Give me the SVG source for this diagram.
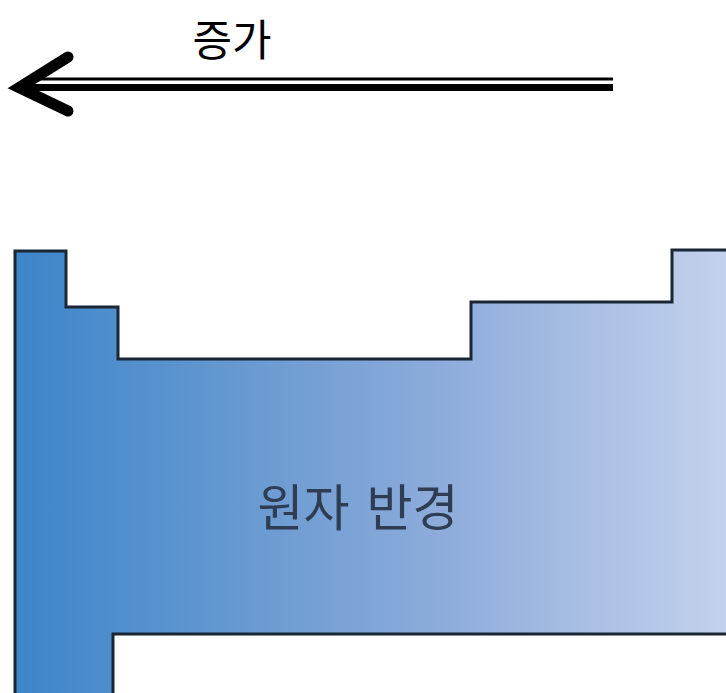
<svg xmlns="http://www.w3.org/2000/svg" width="726" height="693" viewBox="0 0 726 693">
<defs>
<linearGradient id="g" x1="0" y1="0" x2="1" y2="0">
<stop offset="0" stop-color="#3c85c9"/>
<stop offset="0.3" stop-color="#6598d0"/>
<stop offset="0.6" stop-color="#8eacdb"/>
<stop offset="1" stop-color="#c4d2ec"/>
</linearGradient>
<style>
.t{font-family:"Noto Sans CJK KR","Noto Sans",sans-serif;}
</style>
</defs>
<g id="arrow">
<line x1="40" y1="79" x2="613" y2="79" stroke="#000" stroke-width="3"/>
<line x1="30" y1="87.5" x2="613" y2="87.5" stroke="#000" stroke-width="7"/>
<polyline points="68,57 19,87.5 68,111" fill="none" stroke="#000" stroke-width="11" stroke-linecap="round" stroke-linejoin="miter"/>
<text class="t" x="232" y="56" font-size="43" text-anchor="middle" fill="#000">증가</text>
</g>
<g id="table">
<path d="M15,251 H66 V307 H118 V359 H471 V302 H672 V250 H730 V634 H113 V696 H15 Z" fill="url(#g)" stroke="#1b2634" stroke-width="3"/>
<text class="t" x="358" y="526" font-size="50" text-anchor="middle" fill="#2e3d52" word-spacing="6">원자 반경</text>
</g>
</svg>
